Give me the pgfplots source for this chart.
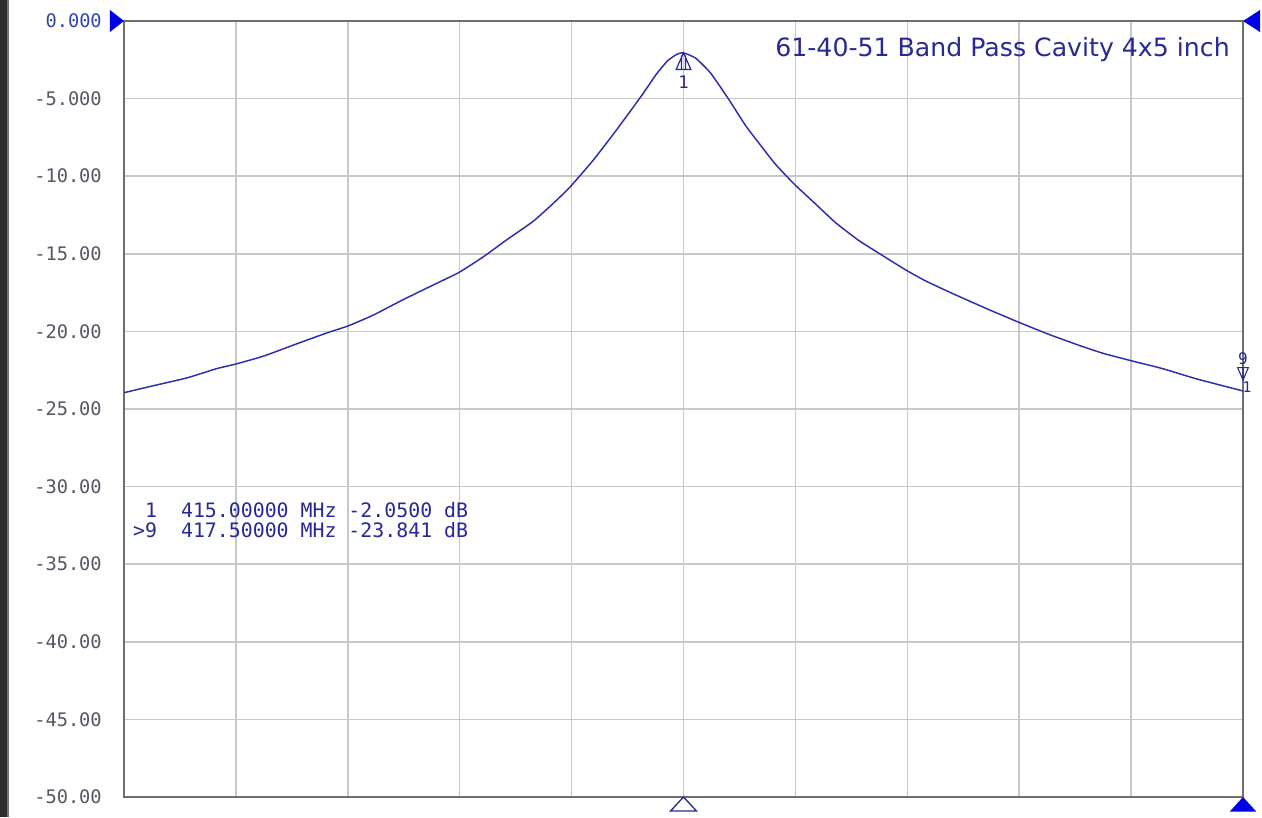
\documentclass[border=0pt]{standalone}
\usepackage{fontspec}
\setmainfont{DejaVu Sans Mono}
\newfontfamily\titlefont{DejaVu Sans}
\usepackage{pgfplots}
\pgfplotsset{compat=1.18}

\definecolor{trace}{RGB}{45,45,175}
\definecolor{navy}{RGB}{40,40,150}
\definecolor{gridgray}{RGB}{200,200,200}
\definecolor{framegray}{RGB}{110,110,110}
\definecolor{ticktext}{RGB}{85,85,100}
\definecolor{refblue}{RGB}{50,70,170}
\definecolor{mkblue}{RGB}{0,0,235}

% marker shapes, tip at the data point
\pgfdeclareplotmark{tipright}{%
  \pgfpathmoveto{\pgfpoint{0pt}{0pt}}%
  \pgfpathlineto{\pgfpoint{-10.5pt}{8.25pt}}%
  \pgfpathlineto{\pgfpoint{-10.5pt}{-8.25pt}}%
  \pgfpathclose\pgfusepathqfill}
\pgfdeclareplotmark{tipleft}{%
  \pgfpathmoveto{\pgfpoint{0pt}{0pt}}%
  \pgfpathlineto{\pgfpoint{12.75pt}{8.25pt}}%
  \pgfpathlineto{\pgfpoint{12.75pt}{-8.25pt}}%
  \pgfpathclose\pgfusepathqfill}
\pgfdeclareplotmark{tipupfill}{%
  \pgfpathmoveto{\pgfpoint{0pt}{0pt}}%
  \pgfpathlineto{\pgfpoint{-10pt}{-11pt}}%
  \pgfpathlineto{\pgfpoint{10pt}{-11pt}}%
  \pgfpathclose\pgfusepathqfill}
\pgfdeclareplotmark{tipupopen}{%
  \pgfpathmoveto{\pgfpoint{0pt}{0pt}}%
  \pgfpathlineto{\pgfpoint{-9.75pt}{-10.5pt}}%
  \pgfpathlineto{\pgfpoint{9.75pt}{-10.5pt}}%
  \pgfpathclose\pgfusepathqstroke}
\pgfdeclareplotmark{peakmark}{%
  \pgfpathmoveto{\pgfpoint{0pt}{0pt}}%
  \pgfpathlineto{\pgfpoint{-5.5pt}{-12.5pt}}%
  \pgfpathlineto{\pgfpoint{5.5pt}{-12.5pt}}%
  \pgfpathclose
  \pgfpathmoveto{\pgfpoint{-1.5pt}{-2pt}}\pgfpathlineto{\pgfpoint{-1.5pt}{-12.5pt}}%
  \pgfpathmoveto{\pgfpoint{1.5pt}{-2pt}}\pgfpathlineto{\pgfpoint{1.5pt}{-12.5pt}}%
  \pgfusepathqstroke}
\pgfdeclareplotmark{downmark}{%
  \pgfpathmoveto{\pgfpoint{0pt}{8.25pt}}%
  \pgfpathlineto{\pgfpoint{-4pt}{17.5pt}}%
  \pgfpathlineto{\pgfpoint{4pt}{17.5pt}}%
  \pgfpathclose
  \pgfpathmoveto{\pgfpoint{0pt}{8.25pt}}\pgfpathlineto{\pgfpoint{0pt}{17.5pt}}%
  \pgfusepathqstroke}

\def\sp{\phantom{0}}

\begin{document}
\begin{tikzpicture}
% screen background and dark left border
\fill[white] (-93pt,-15pt) rectangle (853.5pt,597.75pt);
\fill[black!82] (-93pt,-15pt) rectangle (-88pt,597.75pt);
\fill[black!55] (-88pt,-15pt) rectangle (-86.5pt,597.75pt);

\begin{axis}[
  at={(0,0)}, anchor=south west,
  scale only axis,
  width=839.25pt, height=582pt,
  xmin=412.5, xmax=417.5,
  ymin=-50, ymax=0,
  xtick={412.5,413,...,417.5},
  ytick={-50,-45,...,0},
  xticklabels={},
  yticklabels={-50.00,-45.00,-40.00,-35.00,-30.00,-25.00,-20.00,-15.00,-10.00,-5.000,\textcolor{refblue}{0.000}},
  major tick length=0pt,
  grid=major,
  major grid style={gridgray, line width=1.1pt},
  axis line style={framegray, line width=1.6pt},
  yticklabel style={font=\fontsize{14}{14}\selectfont, text=ticktext,
    anchor=east, inner sep=0pt, xshift=-16.5pt},
  clip=false,
]
% measured trace, S21 in dB
\addplot[trace, line width=1.1pt, smooth, tension=0.3] coordinates {
(412.500,-23.95) (412.631,-23.50) (412.780,-23.00) (412.914,-22.40)
(413.000,-22.10) (413.122,-21.60) (413.272,-20.80) (413.406,-20.10)
(413.501,-19.65) (413.614,-18.95) (413.748,-17.95) (413.912,-16.80)
(413.997,-16.20) (414.105,-15.20) (414.210,-14.10) (414.329,-12.90)
(414.418,-11.75) (414.493,-10.70) (414.597,-8.96) (414.686,-7.30)
(414.761,-5.84) (414.820,-4.66) (414.880,-3.40) (414.930,-2.55)
(414.970,-2.15) (415.000,-2.05) (415.055,-2.40) (415.122,-3.37)
(415.204,-5.09) (415.278,-6.75) (415.352,-8.15) (415.412,-9.25)
(415.494,-10.50) (415.576,-11.60) (415.680,-13.00) (415.784,-14.15)
(415.888,-15.10) (415.993,-16.04) (416.082,-16.75) (416.216,-17.65)
(416.365,-18.60) (416.496,-19.40) (416.634,-20.20) (416.768,-20.90)
(416.872,-21.40) (417.003,-21.90) (417.141,-22.40) (417.290,-23.05)
(417.500,-23.84)
};

% reference and scale indicators
\addplot[only marks, mark=tipright, mkblue] coordinates {(412.5,0)};
\addplot[only marks, mark=tipleft, mkblue] coordinates {(417.5,0)};
\addplot[only marks, mark=tipupfill, mkblue] coordinates {(417.5,-50)};
\addplot[only marks, mark=tipupopen, navy, line width=1pt] coordinates {(415,-50)};

% markers 1 and 9
\addplot[only marks, mark=peakmark, navy, line width=0.9pt] coordinates {(415,-2.05)};
\addplot[only marks, mark=downmark, navy, line width=0.8pt] coordinates {(417.5,-23.841)};
\node[navy, font=\fontsize{13}{13}\selectfont] at (axis cs:415,-3.95) {1};
\node[navy, font=\fontsize{12}{12}\selectfont] at (axis cs:417.5,-21.78) {9};
\node[navy, font=\fontsize{11}{11}\selectfont] at (axis cs:417.518,-23.58) {1};

% title
\node[navy, anchor=base east, inner sep=0pt, font=\titlefont\fontsize{18.9}{18.9}\selectfont]
  at (axis cs:417.442,-2.3) {61-40-51 Band Pass Cavity 4x5 inch};

% marker readout
\node[navy, anchor=base west, inner sep=0pt, font=\fontsize{14.9}{14.9}\selectfont]
  at (axis cs:412.540,-31.96) {\sp1\sp\sp415.00000\sp MHz\sp-2.0500\sp dB};
\node[navy, anchor=base west, inner sep=0pt, font=\fontsize{14.9}{14.9}\selectfont]
  at (axis cs:412.540,-33.31) {>9\sp\sp417.50000\sp MHz\sp-23.841\sp dB};
\end{axis}

\pgfresetboundingbox
\useasboundingbox (-93pt,-15pt) rectangle (853.5pt,597.75pt);
\end{tikzpicture}
\end{document}
